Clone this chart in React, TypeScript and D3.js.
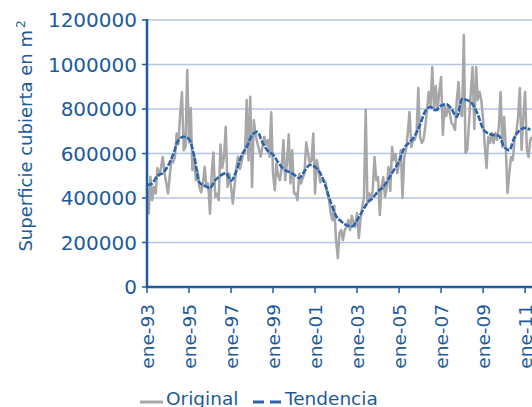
import React from "react";
import * as d3 from "d3";

// monthly surface, jan-93 .. may-11 (m2)
const original = [
  445000, 330000, 495000, 390000, 450000, 420000, 535000, 500000, 535000, 585000, 515000, 470000,
  420000, 500000, 570000, 560000, 585000, 690000, 640000, 780000, 875000, 615000, 630000, 975000,
  650000, 805000, 525000, 585000, 480000, 520000, 450000, 425000, 465000, 540000, 450000, 465000,
  330000, 515000, 605000, 405000, 420000, 390000, 640000, 535000, 585000, 720000, 450000, 510000,
  450000, 375000, 450000, 530000, 585000, 530000, 560000, 600000, 600000, 840000, 570000, 855000,
  450000, 750000, 690000, 650000, 620000, 585000, 630000, 675000, 640000, 660000, 585000, 785000,
  510000, 435000, 555000, 500000, 480000, 540000, 660000, 480000, 560000, 685000, 465000, 615000,
  420000, 420000, 390000, 510000, 465000, 490000, 510000, 650000, 600000, 555000, 570000, 690000,
  420000, 570000, 530000, 470000, 480000, 480000, 470000, 420000, 390000, 330000, 300000, 365000,
  210000, 130000, 243000, 256000, 211000, 256000, 270000, 301000, 256000, 320000, 290000, 270000,
  332000, 220000, 300000, 360000, 400000, 795000, 377000, 420000, 391000, 436000, 584000, 480000,
  494000, 324000, 449000, 494000, 404000, 449000, 539000, 431000, 629000, 570000, 598000, 512000,
  557000, 616000, 400000, 584000, 616000, 692000, 787000, 629000, 661000, 661000, 692000, 894000,
  674000, 647000, 661000, 719000, 795000, 876000, 813000, 989000, 795000, 903000, 795000, 876000,
  944000, 683000, 813000, 768000, 813000, 782000, 737000, 728000, 706000, 840000, 921000, 782000,
  768000, 1133000, 602000, 616000, 737000, 876000, 989000, 710000, 989000, 840000, 876000, 840000,
  750000, 629000, 534000, 674000, 647000, 692000, 647000, 692000, 661000, 719000, 876000, 629000,
  764000, 616000, 422000, 512000, 584000, 570000, 661000, 692000, 764000, 894000, 616000, 764000,
  876000, 616000, 584000, 661000, 674000,
];

// trend, one value every 3 months from jan-93
const tendencia = [
  458000, 465000, 500000, 512000, 545000, 595000, 660000, 675000, 665000, 590000,
  470000, 455000, 445000, 480000, 500000, 512000, 478000, 520000, 590000, 630000,
  683000, 697000, 650000, 612000, 595000, 560000, 530000, 518000, 505000, 490000,
  520000, 548000, 540000, 512000, 455000, 380000, 320000, 295000, 278000, 272000,
  300000, 340000, 378000, 400000, 430000, 450000, 485000, 525000, 565000, 625000,
  650000, 680000, 730000, 790000, 809000, 795000, 815000, 822000, 800000, 765000,
  845000, 840000, 822000, 775000, 710000, 690000, 683000, 680000, 630000, 615000,
  674000, 705000, 715000, 706000,
];

const yTicks = [0, 200000, 400000, 600000, 800000, 1000000, 1200000];
const xTickYears = [1993, 1995, 1997, 1999, 2001, 2003, 2005, 2007, 2009, 2011];

const W = 532;
const H = 407;
const left = 147;
const right = 532;
const top = 20;
const bottom = 287;

const blue = "#1d5ba2";
const textBlue = "#1c5a9c";
const trendBlue = "#2b63ad";
const gray = "#a7a7a9";
const grid = "#b7c4e6";
const font = "'DejaVu Sans', sans-serif";

const start = new Date(1993, 0, 1);
const monthDate = (i: number) => d3.timeMonth.offset(start, i);

export default function App() {
  const x = d3.scaleTime().domain([start, monthDate(220)]).range([left, right]);
  const y = d3.scaleLinear().domain([0, 1200000]).range([bottom, top]);

  const origLine = d3
    .line<number>()
    .x((_, i) => x(monthDate(i)))
    .y((d) => y(d));

  const trendLine = d3
    .line<number>()
    .x((_, i) => x(monthDate(i * 3)))
    .y((d) => y(d))
    .curve(d3.curveMonotoneX);

  return (
    <svg width={W} height={H} style={{ position: "absolute", left: 0, top: 0 }} fontFamily={font}>
      <rect width={W} height={H} fill="#fff" />
      {yTicks.slice(1).map((t) => (
        <line key={t} x1={left} x2={right} y1={y(t)} y2={y(t)} stroke={grid} strokeWidth={1.5} />
      ))}

      <path d={origLine(original) || ""} fill="none" stroke={gray} strokeWidth={2.5} strokeLinejoin="round" />
      <path d={trendLine(tendencia) || ""} fill="none" stroke={trendBlue} strokeWidth={2.6} strokeDasharray="6,1.5" />

      {/* y axis */}
      <line x1={left} x2={left} y1={top - 1} y2={bottom + 1} stroke={blue} strokeWidth={2.5} />
      {yTicks.map((t) => (
        <g key={t}>
          <line x1={left - 5} x2={left} y1={y(t)} y2={y(t)} stroke={blue} strokeWidth={1.5} />
          <text x={left - 10} y={y(t)} dy="0.36em" textAnchor="end" fontSize={20} fill={textBlue}>
            {t}
          </text>
        </g>
      ))}

      {/* x axis */}
      <line x1={left - 1} x2={right} y1={bottom} y2={bottom} stroke={blue} strokeWidth={2.5} />
      {xTickYears.map((yr) => {
        const tx = x(new Date(yr, 0, 1));
        return (
          <g key={yr}>
            <line x1={tx} x2={tx} y1={bottom} y2={bottom + 6} stroke={blue} strokeWidth={1.5} />
            <text
              transform={`translate(${tx},${bottom + 17}) rotate(-90)`}
              dy="0.36em"
              textAnchor="end"
              fontSize={18.5}
              fill={textBlue}
            >
              {"ene-" + String(yr).slice(2)}
            </text>
          </g>
        );
      })}

      {/* y title */}
      <text transform={`translate(32,136) rotate(-90)`} textAnchor="middle" fontSize={18} fill={textBlue}>
        Superficie cubierta en m
        <tspan dx={2} dy={-7} fontSize={12}>
          2
        </tspan>
      </text>

      {/* legend */}
      <line x1={140} x2={163} y1={402} y2={402} stroke={gray} strokeWidth={3} />
      <text x={166} y={405} fontSize={18.5} fill={textBlue}>
        Original
      </text>
      <line x1={253} x2={282} y1={402} y2={402} stroke={trendBlue} strokeWidth={3} strokeDasharray="11,6" />
      <text x={285} y={405} fontSize={18.5} fill={textBlue}>
        Tendencia
      </text>
    </svg>
  );
}
